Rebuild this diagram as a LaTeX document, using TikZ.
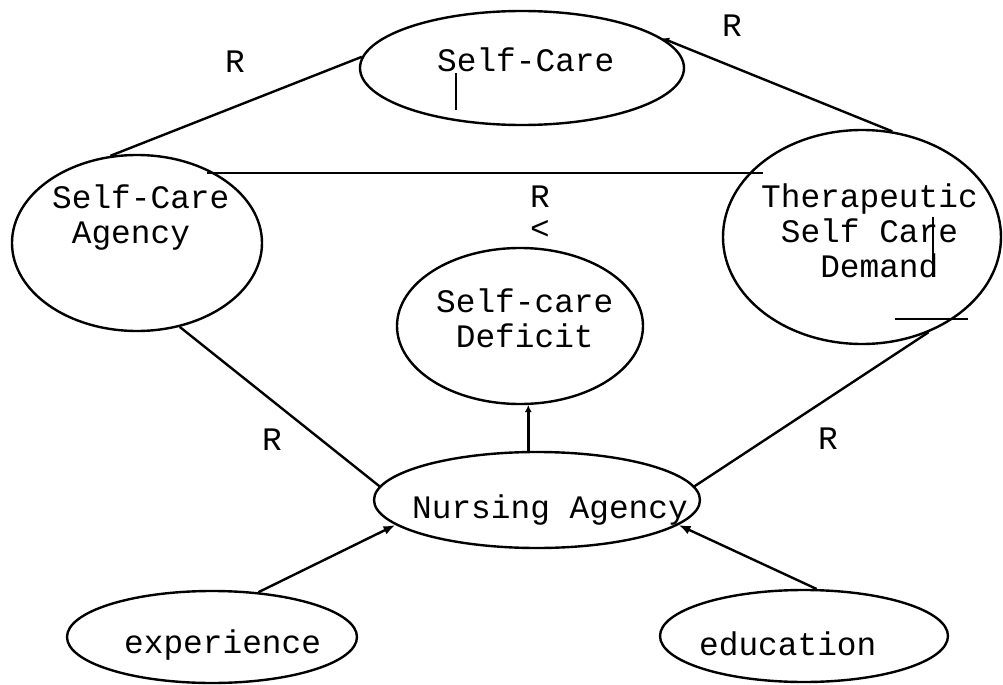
\documentclass[tikz,border=0pt]{standalone}
\usepackage{fontspec}
\setmonofont{Liberation Mono}
\usetikzlibrary{shapes,arrows.meta,positioning,calc}

\tikzset{
  oval/.style={ellipse, draw, inner sep=0pt},
  lbl/.style={font=\ttfamily\fontsize{16.4}{17.5}\selectfont, inner sep=0pt, anchor=base west, align=left},
  rel/.style={font=\ttfamily\fontsize{16.4}{17.5}\selectfont, inner sep=0pt, anchor=base},
  feed/.style={-{Latex[length=6pt,width=4.5pt]}},
  dot/.style={-{Latex[length=3.5pt,width=3.5pt]}},
}

\begin{document}
\begin{tikzpicture}[x=0.5pt,y=-0.5pt,line width=1.2pt]
    \useasboundingbox (0,0) rectangle (1003,685);

    % Concepts
    \node[oval, minimum width=162pt, minimum height=57pt] (selfcare) at (522,68) {};
    \node[oval, minimum width=125pt, minimum height=88pt] (agency) at (137,243) {};
    \node[oval, minimum width=139pt, minimum height=107pt] (demand) at (862,237) {};
    \node[oval, minimum width=123pt, minimum height=78pt] (deficit) at (520,326) {};
    \node[oval, minimum width=163pt, minimum height=48pt] (nursing) at (537,500) {};
    \node[oval, minimum width=145pt, minimum height=46pt] (experience) at (212,637) {};
    \node[oval, minimum width=144pt, minimum height=46pt] (education) at (804,636) {};

    % text sits on the baseline of its last line
    \node[lbl] (selfcare-txt) at (436,71) {Self-Care};
    \node[lbl] (agency-txt) at (51,243) {Self-Care\\\hphantom{x}Agency};
    \node[lbl] (demand-txt) at (760,277) {Therapeutic\\\hphantom{x}Self Care\\\hphantom{xxx}Demand};
    \node[lbl] (deficit-txt) at (435,347) {Self-care\\\hphantom{x}Deficit};
    \node[lbl] (nursing-txt) at (411,518) {Nursing Agency};
    \node[lbl] (experience-txt) at (123,653) {experience};
    \node[lbl] (education-txt) at (698,655) {education};

    % Relations
    \draw (agency.107) -- (selfcare.176);
    \draw[dot] (demand.74) -- (selfcare.12);
    \draw[shorten <=-4pt, shorten >=-5pt] (agency.42) -- (agency.42 -| demand.148);
    \draw (agency.-63) -- (nursing.175);
    \draw (demand.-55) -- (nursing.5);
    \draw[dot] (nursing.north -| deficit.-84) -- (deficit.-84);
    \draw[feed] (experience.44) -- (nursing.190);
    \draw[feed] (education.75) -- (nursing.-10);

    \node[rel] (r-left) at (235,72) {R};
    \node[rel] (r-right) at (732,37) {R};
    \node[rel] (r-mid) at (540,207) {R};
    \node[rel] (lt-mid) at (540,239) {<};
    \node[rel] (r-low-left) at (272,450) {R};
    \node[rel] (r-low-right) at (828,449) {R};

    % stray marks
    \draw (456,73) -- (456,110);
    \draw (933,217) -- (933,277);
    \draw (895,319) -- (968,319);
\end{tikzpicture}
\end{document}
